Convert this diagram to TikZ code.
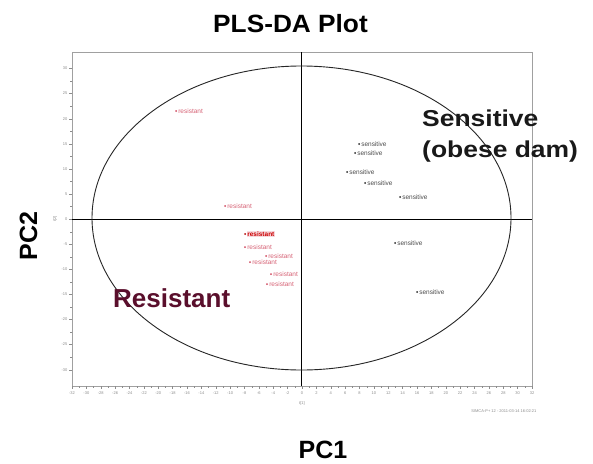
\documentclass[tikz,border=0pt]{standalone}
\usepackage{fontspec}
\setmainfont{Liberation Sans}
\usetikzlibrary{positioning}
\definecolor{resred}{HTML}{D0485E}
\definecolor{resdark}{HTML}{5A0F2C}
\definecolor{framegray}{HTML}{A0A0A0}
\definecolor{tickgray}{HTML}{8C8C8C}

\tikzset{
  bigtext/.style={font=\bfseries\fontsize{25}{30}\selectfont, inner sep=0pt},
  respt/.style={circle, fill=resred, inner sep=0pt, minimum size=2pt},
  senspt/.style={circle, fill=black!85, inner sep=0pt, minimum size=2pt},
  ptlabel/.style={font=\fontsize{6.5}{7}\selectfont, inner sep=0.3pt},
  ticklbl/.style={font=\fontsize{4}{4}\selectfont, text=tickgray, inner sep=0.5pt}
}

\begin{document}
\begin{tikzpicture}[x=1pt, y=-1pt]
  \useasboundingbox (0,0) rectangle (593,463);
  \fill[white] (0,0) rectangle (593,463);

  % title
  \node[bigtext, anchor=base] (title) at (290.5,32) {\scalebox{1.05}[1]{PLS-DA Plot}};

  % frame and axes
  \draw[framegray, line width=0.5pt] (72,52) rectangle (532,386);
  \coordinate (xl) at (72,219);
  \coordinate (xr) at (532,219);
  \coordinate (yt) at (301,52);
  \coordinate (yb) at (301,386);
  \draw[black, line width=0.9pt] (xl) -- (xr);
  \draw[black, line width=0.9pt] (yt) -- (yb);

  % confidence ellipse
  \draw[black!85, line width=0.9pt] (301.5,218) ellipse [x radius=209.5pt, y radius=152pt];

  % x ticks
  \foreach \k in {0,...,32} {
    \pgfmathsetmacro{\xx}{72+\k*14.375}
    \pgfmathtruncatemacro{\val}{-32+2*\k}
    \draw[tickgray, line width=0.4pt] (\xx,386) -- (\xx,389);
    \node[ticklbl] at (\xx,393) {\val};
  }
  \foreach \k in {0,...,31} {
    \pgfmathsetmacro{\xx}{72+\k*14.375+7.19}
    \draw[tickgray, line width=0.3pt] (\xx,386) -- (\xx,388);
  }
  % y ticks
  \foreach \j in {0,...,12} {
    \pgfmathsetmacro{\yy}{68.5+\j*25.1}
    \pgfmathtruncatemacro{\val}{30-5*\j}
    \draw[tickgray, line width=0.4pt] (72,\yy) -- (69,\yy);
    \node[ticklbl, anchor=east] at (68,\yy) {\val};
  }
  \foreach \j in {0,...,11} {
    \pgfmathsetmacro{\yy}{68.5+\j*25.1+12.55}
    \draw[tickgray, line width=0.3pt] (72,\yy) -- (70,\yy);
  }
  \node[ticklbl] (t1) at (302,403) {t[1]};
  \node[ticklbl, rotate=90] (t2) at (55,219) {t[2]};
  \node[ticklbl, anchor=east] (stamp) at (537,411) {SIMCA-P+ 12 - 2011-03-14 16:02:21};

  % resistant samples
  \foreach \px/\py [count=\i] in {176/111, 225/206, 245/247, 266/256, 250/262, 271/274, 267/284} {
    \node[respt] (r\i) at (\px,\py) {};
    \node[ptlabel, text=resred!85, right=0.6pt of r\i] (r\i l) {resistant};
  }
  % selected sample
  \node[respt, fill=red!70!black] (r0) at (245,234) {};
  \node[ptlabel, text=red!80!black, fill=resred!20, right=0.6pt of r0] (r0l) {\bfseries resistant};

  % sensitive samples
  \foreach \px/\py [count=\i] in {359/144, 355/153, 347/172, 365/183, 400/197, 395/243, 417/292} {
    \node[senspt] (s\i) at (\px,\py) {};
    \node[ptlabel, text=black!70, right=0.6pt of s\i] (s\i l) {sensitive};
  }

  % group labels
  \node[bigtext, font=\bfseries\fontsize{23}{28}\selectfont, text=black!90, anchor=base west] (sensa) at (422,126) {\scalebox{1.15}[1]{Sensitive}};
  \node[bigtext, font=\bfseries\fontsize{23}{28}\selectfont, text=black!90, anchor=base west] (sensb) at (422,157) {\scalebox{1.15}[1]{(obese dam)}};
  \node[bigtext, font=\bfseries\fontsize{26}{30}\selectfont, text=resdark, anchor=base west] (resl) at (113,307) {Resistant};

  % axis titles
  \node[bigtext, anchor=base] (pc1) at (323,458) {PC1};
  \node[bigtext, rotate=90, anchor=base] (pc2) at (37,236) {PC2};
\end{tikzpicture}
\end{document}
